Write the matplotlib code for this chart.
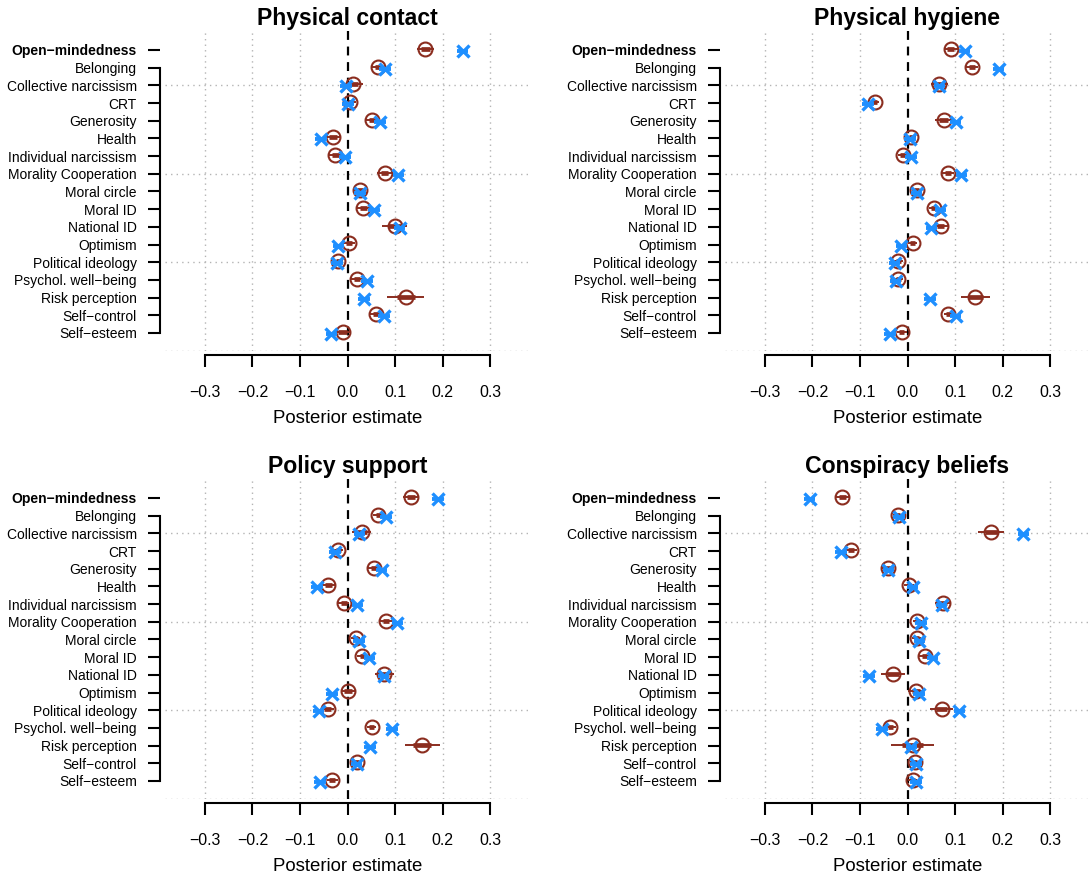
import numpy as np
import matplotlib
matplotlib.use("Agg")
import matplotlib.pyplot as plt

plt.rcParams["font.family"] = ["Liberation Sans", "DejaVu Sans"]

# Etiquetas de los predictores (de arriba hacia abajo)
predictors = ["Open\u2212mindedness", "Belonging", "Collective narcissism", "CRT",
              "Generosity", "Health", "Individual narcissism", "Morality Cooperation",
              "Moral circle", "Moral ID", "National ID", "Optimism", "Political ideology",
              "Psychol. well\u2212being", "Risk perception", "Self\u2212control", "Self\u2212esteem"]

titles = ["Physical contact", "Physical hygiene", "Policy support", "Conspiracy beliefs"]

# Estimaciones (marron = circulo, azul = x)
contact_brown = [0.164, 0.065, 0.012, 0.006, 0.052, -0.031, -0.026, 0.078, 0.026, 0.033,
                 0.099, 0.003, -0.020, 0.020, 0.123, 0.061, -0.010]
contact_blue = [0.242, 0.079, -0.003, 0.001, 0.068, -0.056, -0.005, 0.107, 0.026, 0.056,
                0.110, -0.019, -0.022, 0.041, 0.035, 0.077, -0.034]
contact_err = [0.018, 0.015, 0.020, 0.012, 0.015, 0.017, 0.015, 0.015, 0.012, 0.015,
               0.026, 0.012, 0.010, 0.012, 0.039, 0.014, 0.018]

hygiene_brown = [0.091, 0.136, 0.067, -0.069, 0.076, 0.008, -0.010, 0.085, 0.019, 0.055,
                 0.070, 0.011, -0.019, -0.019, 0.143, 0.086, -0.012]
hygiene_blue = [0.120, 0.192, 0.067, -0.083, 0.101, 0.005, 0.007, 0.113, 0.019, 0.069,
                0.050, -0.013, -0.027, -0.025, 0.047, 0.101, -0.037]
hygiene_err = [0.015, 0.013, 0.018, 0.010, 0.018, 0.010, 0.010, 0.012, 0.010, 0.010,
               0.015, 0.010, 0.010, 0.010, 0.030, 0.010, 0.010]

policy_brown = [0.133, 0.065, 0.030, -0.019, 0.056, -0.040, -0.008, 0.081, 0.017, 0.031,
                0.077, 0.001, -0.042, 0.051, 0.157, 0.019, -0.032]
policy_blue = [0.190, 0.081, 0.025, -0.026, 0.072, -0.064, 0.021, 0.105, 0.024, 0.046,
               0.076, -0.033, -0.061, 0.094, 0.047, 0.019, -0.058]
policy_err = [0.016, 0.012, 0.020, 0.010, 0.013, 0.013, 0.012, 0.012, 0.010, 0.010,
              0.020, 0.015, 0.013, 0.010, 0.037, 0.010, 0.012]

consp_brown = [-0.137, -0.020, 0.176, -0.119, -0.041, 0.003, 0.075, 0.021, 0.019, 0.036,
               -0.030, 0.018, 0.072, -0.036, 0.011, 0.016, 0.011]
consp_blue = [-0.206, -0.018, 0.244, -0.140, -0.040, 0.011, 0.072, 0.028, 0.025, 0.053,
              -0.081, 0.024, 0.109, -0.054, 0.008, 0.018, 0.018]
consp_err = [0.016, 0.010, 0.027, 0.012, 0.012, 0.010, 0.017, 0.010, 0.010, 0.012,
             0.025, 0.016, 0.024, 0.012, 0.045, 0.010, 0.010]

blue_err = 0.012
xticks = [-0.3, -0.2, -0.1, 0.0, 0.1, 0.2, 0.3]
xticklabels = ["\u22120.3", "\u22120.2", "\u22120.1", "0.0", "0.1", "0.2", "0.3"]
hlines_at = [2, 7, 12, 17]

brown = "#8B2D1F"
blue = "#1E8FFF"
grid_col = "#B4B4B4"

panels = [
    (contact_brown, contact_blue, contact_err),
    (hygiene_brown, hygiene_blue, hygiene_err),
    (policy_brown, policy_blue, policy_err),
    (consp_brown, consp_blue, consp_err),
]

W, H = 1091, 877
fig = plt.figure(figsize=(W / 100, H / 100), dpi=100)

lefts = [165, 725]
tops = [30, 478]
pw, ph = 365, 321


def draw_panel(ax, title, b, u, e):
    n = len(predictors)
    rows = np.arange(n)
    b = np.array(b)
    u = np.array(u)
    e = np.array(e)

    ax.set_xlim(-0.384, 0.384)
    ax.set_ylim(17.02, -1.13)

    # rejilla punteada
    for xv in xticks:
        if xv == 0.0:
            continue
        ax.axvline(xv, color=grid_col, lw=1.0, ls=(0, (1, 3)), zorder=1)
    for yv in hlines_at:
        ax.axhline(yv, color=grid_col, lw=1.0, ls=(0, (1, 3)), zorder=1)
    ax.axvline(0.0, color="black", lw=1.6, ls=(0, (4, 3)), zorder=2)

    # intervalos y puntos
    yb = rows - 0.06
    yu = rows + 0.06
    ax.hlines(yb, b - e, b + e, color=brown, lw=1.4, zorder=3)
    ax.hlines(yb, b - e / 2, b + e / 2, color=brown, lw=3.4, zorder=3)
    ax.plot(b, yb, "o", ms=10, mfc="none", mec=brown, mew=1.5, zorder=4)
    ax.hlines(yu, u - blue_err, u + blue_err, color=blue, lw=2.8, zorder=5)
    ax.plot(u, yu, "x", ms=8.5, mec=blue, mew=2.4, zorder=6)

    # ejes estilo R
    for s in ["top", "right"]:
        ax.spines[s].set_visible(False)
    ax.spines["left"].set_position(("outward", 3.6))
    ax.spines["left"].set_bounds(1, n - 1)
    ax.spines["left"].set_linewidth(1.5)
    ax.spines["bottom"].set_position(("outward", 3))
    ax.spines["bottom"].set_bounds(-0.3, 0.3)
    ax.spines["bottom"].set_linewidth(1.5)

    ax.set_yticks(rows)
    ax.set_yticklabels(predictors, fontsize=10)
    ax.get_yticklabels()[0].set_fontweight("bold")
    ax.set_xticks(xticks)
    ax.set_xticklabels(xticklabels)
    ax.tick_params(axis="y", length=8.6, width=1.5, pad=8)
    ax.tick_params(axis="x", length=8.6, width=1.5, pad=13, labelsize=11.4)
    ax.set_xlabel("Posterior estimate", fontsize=13.4, labelpad=7)
    ax.set_title(title, fontsize=16.6, fontweight="bold", pad=3)


for i, (title, (b, u, e)) in enumerate(zip(titles, panels)):
    left = lefts[i % 2]
    top = tops[i // 2]
    ax = fig.add_axes([left / W, 1 - (top + ph) / H, pw / W, ph / H])
    ax.patch.set_visible(False)
    draw_panel(ax, title, b, u, e)

fig.savefig("out.png", dpi=100)
